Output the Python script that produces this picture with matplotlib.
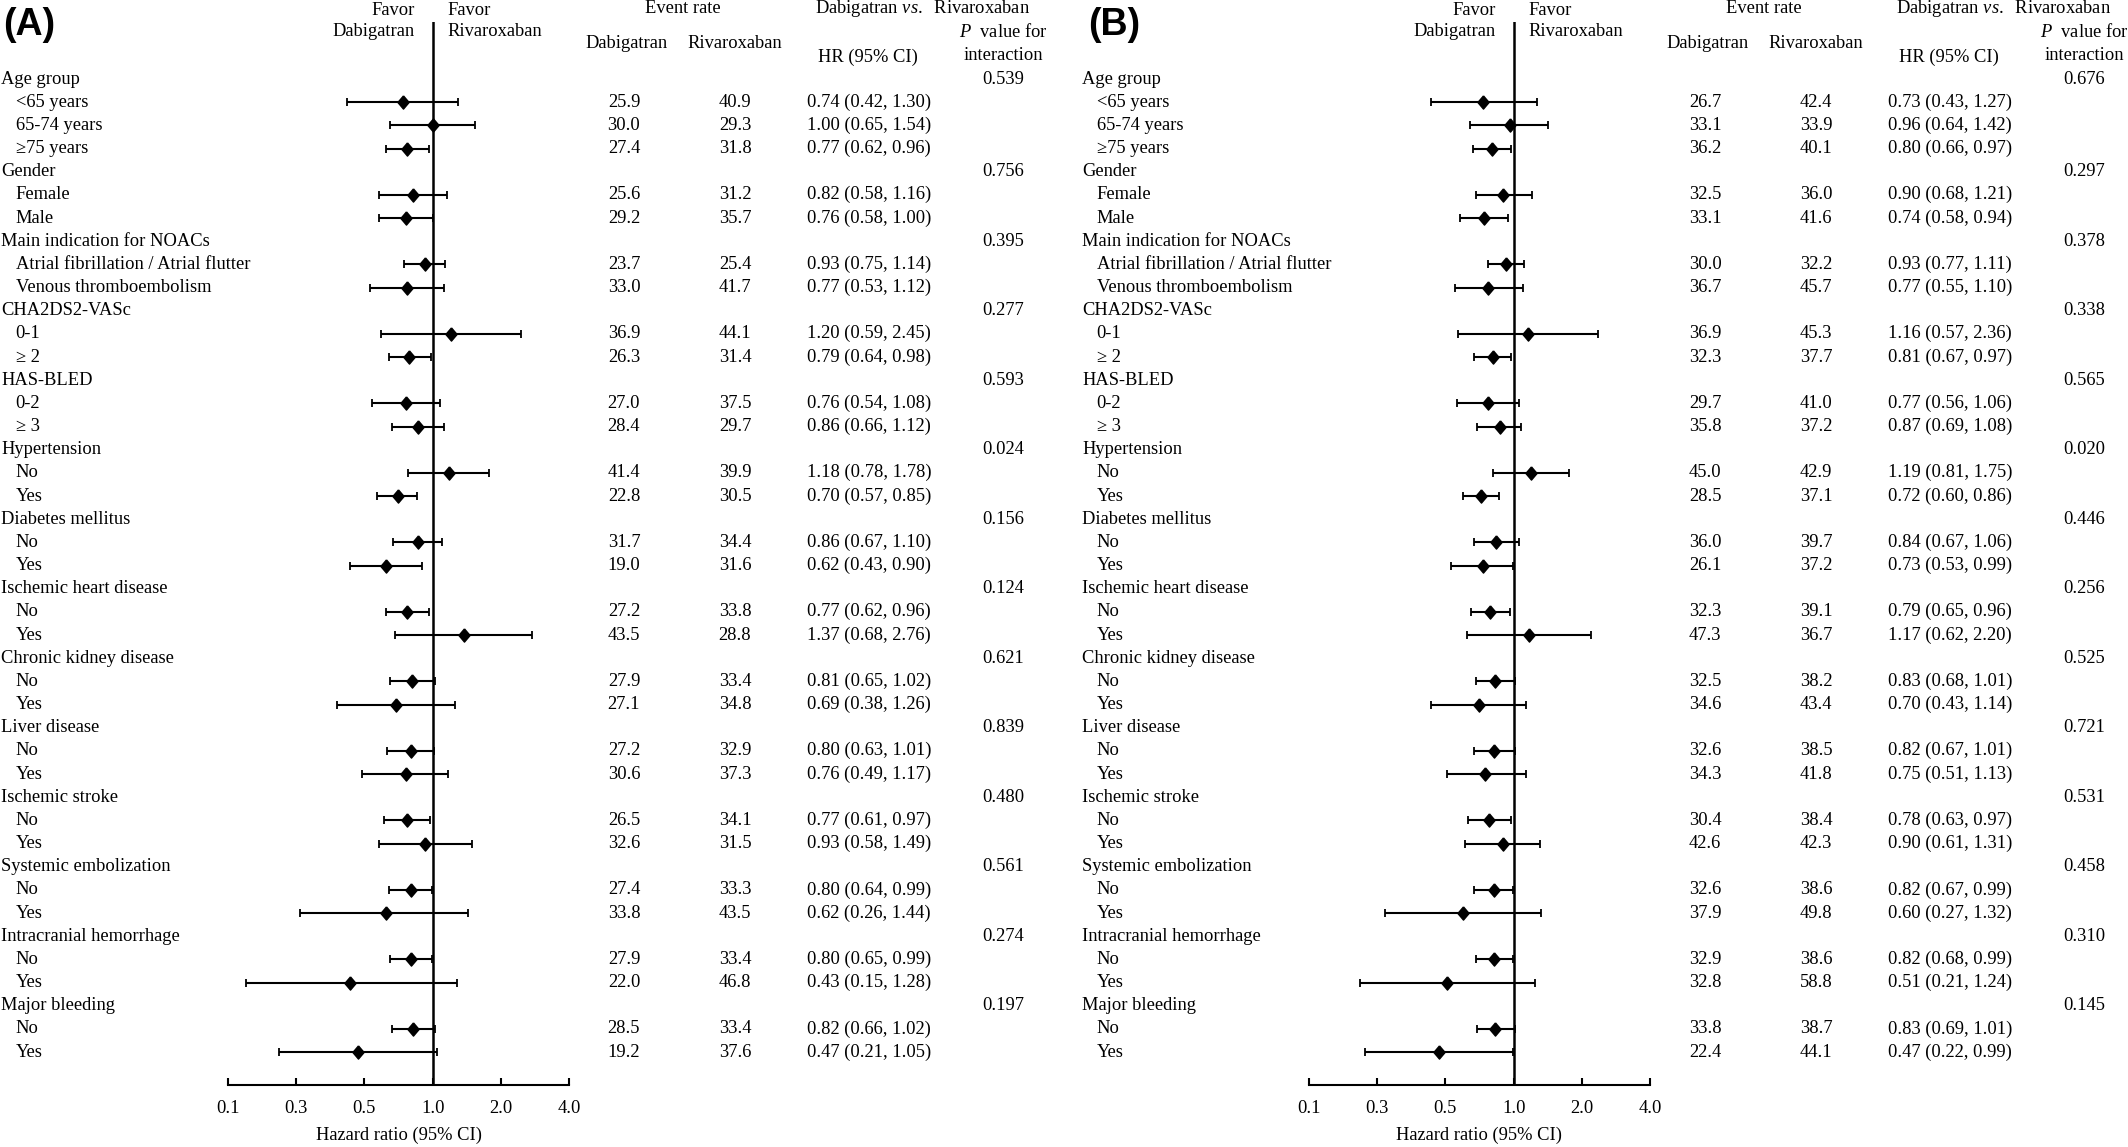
import matplotlib
matplotlib.use("Agg")
import matplotlib.pyplot as plt
from matplotlib.transforms import blended_transform_factory
import numpy as np

# ---------------- data ----------------
groups = ["Age group", "Gender", "Main indication for NOACs", "CHA2DS2-VASc", "HAS-BLED",
          "Hypertension", "Diabetes mellitus", "Ischemic heart disease", "Chronic kidney disease",
          "Liver disease", "Ischemic stroke", "Systemic embolization", "Intracranial hemorrhage",
          "Major bleeding"]
subgroups = [["<65 years", "65-74 years", "\u226575 years"], ["Female", "Male"],
             ["Atrial fibrillation / Atrial flutter", "Venous thromboembolism"],
             ["0-1", "\u2265 2"], ["0-2", "\u2265 3"]] + [["No", "Yes"]] * 9

# Panel A
a_dab = [25.9, 30.0, 27.4, 25.6, 29.2, 23.7, 33.0, 36.9, 26.3, 27.0, 28.4, 41.4, 22.8,
         31.7, 19.0, 27.2, 43.5, 27.9, 27.1, 27.2, 30.6, 26.5, 32.6, 27.4, 33.8, 27.9, 22.0, 28.5, 19.2]
a_riv = [40.9, 29.3, 31.8, 31.2, 35.7, 25.4, 41.7, 44.1, 31.4, 37.5, 29.7, 39.9, 30.5,
         34.4, 31.6, 33.8, 28.8, 33.4, 34.8, 32.9, 37.3, 34.1, 31.5, 33.3, 43.5, 33.4, 46.8, 33.4, 37.6]
a_hr = [0.74, 1.00, 0.77, 0.82, 0.76, 0.93, 0.77, 1.20, 0.79, 0.76, 0.86, 1.18, 0.70,
        0.86, 0.62, 0.77, 1.37, 0.81, 0.69, 0.80, 0.76, 0.77, 0.93, 0.80, 0.62, 0.80, 0.43, 0.82, 0.47]
a_lo = [0.42, 0.65, 0.62, 0.58, 0.58, 0.75, 0.53, 0.59, 0.64, 0.54, 0.66, 0.78, 0.57,
        0.67, 0.43, 0.62, 0.68, 0.65, 0.38, 0.63, 0.49, 0.61, 0.58, 0.64, 0.26, 0.65, 0.15, 0.66, 0.21]
a_hi = [1.30, 1.54, 0.96, 1.16, 1.00, 1.14, 1.12, 2.45, 0.98, 1.08, 1.12, 1.78, 0.85,
        1.10, 0.90, 0.96, 2.76, 1.02, 1.26, 1.01, 1.17, 0.97, 1.49, 0.99, 1.44, 0.99, 1.28, 1.02, 1.05]
a_p = ["0.539", "0.756", "0.395", "0.277", "0.593", "0.024", "0.156", "0.124", "0.621",
       "0.839", "0.480", "0.561", "0.274", "0.197"]

# Panel B
b_dab = [26.7, 33.1, 36.2, 32.5, 33.1, 30.0, 36.7, 36.9, 32.3, 29.7, 35.8, 45.0, 28.5,
         36.0, 26.1, 32.3, 47.3, 32.5, 34.6, 32.6, 34.3, 30.4, 42.6, 32.6, 37.9, 32.9, 32.8, 33.8, 22.4]
b_riv = [42.4, 33.9, 40.1, 36.0, 41.6, 32.2, 45.7, 45.3, 37.7, 41.0, 37.2, 42.9, 37.1,
         39.7, 37.2, 39.1, 36.7, 38.2, 43.4, 38.5, 41.8, 38.4, 42.3, 38.6, 49.8, 38.6, 58.8, 38.7, 44.1]
b_hr = [0.73, 0.96, 0.80, 0.90, 0.74, 0.93, 0.77, 1.16, 0.81, 0.77, 0.87, 1.19, 0.72,
        0.84, 0.73, 0.79, 1.17, 0.83, 0.70, 0.82, 0.75, 0.78, 0.90, 0.82, 0.60, 0.82, 0.51, 0.83, 0.47]
b_lo = [0.43, 0.64, 0.66, 0.68, 0.58, 0.77, 0.55, 0.57, 0.67, 0.56, 0.69, 0.81, 0.60,
        0.67, 0.53, 0.65, 0.62, 0.68, 0.43, 0.67, 0.51, 0.63, 0.61, 0.67, 0.27, 0.68, 0.21, 0.69, 0.22]
b_hi = [1.27, 1.42, 0.97, 1.21, 0.94, 1.11, 1.10, 2.36, 0.97, 1.06, 1.08, 1.75, 0.86,
        1.06, 0.99, 0.96, 2.20, 1.01, 1.14, 1.01, 1.13, 0.97, 1.31, 0.99, 1.32, 0.99, 1.24, 1.01, 0.99]
b_p = ["0.676", "0.297", "0.378", "0.338", "0.565", "0.020", "0.446", "0.256", "0.525",
       "0.721", "0.531", "0.458", "0.310", "0.145"]

tick_vals = [0.125, 0.25, 0.5, 1, 2, 4]
tick_labels = ["0.1", "0.3", "0.5", "1.0", "2.0", "4.0"]

# ---------------- style ----------------
plt.rcParams["font.family"] = ["Liberation Serif", "DejaVu Serif"]
plt.rcParams["mathtext.fontset"] = "custom"
plt.rcParams["mathtext.rm"] = "Liberation Serif"
plt.rcParams["mathtext.it"] = "Liberation Serif:italic"

W, H = 2128, 1147
fig = plt.figure(figsize=(W / 100, H / 100), dpi=100)
FS = 13.3

def fx(px):
    return px / W

def fy(py):
    return 1 - py / H

ROW0, ROWH = 79.0, 23.167      # pixel y of first row, row height
AX_TOP, AX_BOT = 21.7, 1085.0
FL, FR = 228.0, 569.0           # forest x extent in panel

diamond = [(0, 1), (0.85, 0), (0, -1), (-0.85, 0), (0, 1)]

panels = [
    (0, "(A)", 3, a_dab, a_riv, a_hr, a_lo, a_hi, a_p),
    (1081, "(B)", 7, b_dab, b_riv, b_hr, b_lo, b_hi, b_p),
]

for off, plabel, lx, dab, riv, hr, lo, hi, pv in panels:
    ax = fig.add_axes([fx(off + FL), fy(AX_BOT), fx(FR - FL), (AX_BOT - AX_TOP) / H])
    ax.set_xscale("log", base=2)
    ax.set_xlim(0.125, 4)
    ax.set_ylim((AX_BOT - ROW0) / ROWH, (AX_TOP - ROW0) / ROWH)
    for s in ["top", "left", "right"]:
        ax.spines[s].set_visible(False)
    ax.spines["bottom"].set_linewidth(1.5)
    ax.set_yticks([])
    ax.set_xticks(tick_vals)
    ax.set_xticklabels(tick_labels, fontsize=FS)
    ax.xaxis.set_minor_locator(matplotlib.ticker.NullLocator())
    ax.tick_params(axis="x", direction="in", length=5, width=1.5, pad=11)
    ax.set_xlabel("Hazard ratio (95% CI)", fontsize=FS, labelpad=7)
    ax.patch.set_alpha(0)
    ax.axvline(1, color="black", lw=1.8, zorder=1)

    trans = blended_transform_factory(fig.transFigure, ax.transData)
    ys = []
    i = 0
    k = 0
    for gi, (g, subs) in enumerate(zip(groups, subgroups)):
        ax.text(fx(off + 1), i, g, transform=trans, ha="left", va="center", fontsize=FS)
        ax.text(fx(off + 1003), i, pv[gi], transform=trans, ha="center", va="center", fontsize=FS)
        i += 1
        for s in subs:
            ax.text(fx(off + 15.7), i, s, transform=trans, ha="left", va="center", fontsize=FS)
            ax.text(fx(off + 624), i, f"{dab[k]:.1f}", transform=trans, ha="center", va="center", fontsize=FS)
            ax.text(fx(off + 735), i, f"{riv[k]:.1f}", transform=trans, ha="center", va="center", fontsize=FS)
            ax.text(fx(off + 869), i, f"{hr[k]:.2f} ({lo[k]:.2f}, {hi[k]:.2f})", transform=trans,
                    ha="center", va="center", fontsize=FS)
            ys.append(i)
            i += 1
            k += 1

    hr_a = np.array(hr); lo_a = np.array(lo); hi_a = np.array(hi)
    ax.errorbar(hr_a, ys, xerr=[hr_a - lo_a, hi_a - hr_a], fmt="none", ecolor="black",
                elinewidth=1.5, capsize=3, capthick=1.3, zorder=2)
    ax.plot(hr_a, ys, ls="none", marker=diamond, ms=9.5, color="black", zorder=3)

    # headers
    fig.text(fx(off + lx), fy(25), plabel, family=["Liberation Sans", "DejaVu Sans"],
             weight="bold", fontsize=27, ha="left", va="center")
    fig.text(fx(off + 415), fy(10.7), "Favor", ha="right", va="center", fontsize=FS)
    fig.text(fx(off + 415), fy(31.7), "Dabigatran", ha="right", va="center", fontsize=FS)
    fig.text(fx(off + 447), fy(10.7), "Favor", ha="left", va="center", fontsize=FS)
    fig.text(fx(off + 447), fy(31.7), "Rivaroxaban", ha="left", va="center", fontsize=FS)
    fig.text(fx(off + 683), fy(8.3), "Event rate", ha="center", va="center", fontsize=FS)
    fig.text(fx(off + 923), fy(8.3), r"Dabigatran $\mathit{vs.}$  Rivaroxaban", ha="center",
             va="center", fontsize=FS)
    fig.text(fx(off + 626), fy(43.3), "Dabigatran", ha="center", va="center", fontsize=FS)
    fig.text(fx(off + 735), fy(43.3), "Rivaroxaban", ha="center", va="center", fontsize=FS)
    fig.text(fx(off + 868), fy(57.3), "HR (95% CI)", ha="center", va="center", fontsize=FS)
    fig.text(fx(off + 1003), fy(32.3), r"$\mathit{P}$  value for", ha="center", va="center", fontsize=FS)
    fig.text(fx(off + 1003), fy(56), "interaction", ha="center", va="center", fontsize=FS)

fig.savefig("out.png", dpi=100)
